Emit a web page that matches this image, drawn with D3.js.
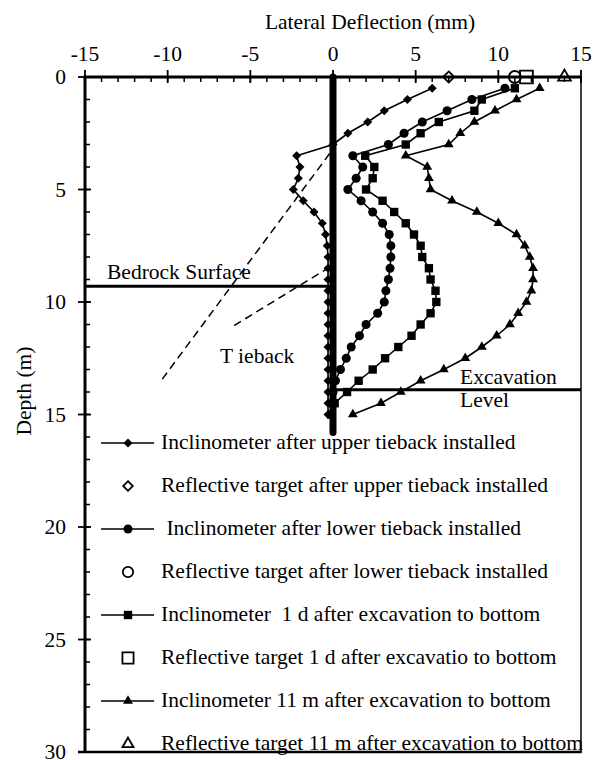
<!DOCTYPE html>
<html lang="en">
<head>
<meta charset="UTF-8">
<title>Lateral deflection profile</title>
<script src="https://cdn.jsdelivr.net/npm/d3@7"></script>
<style>
  body { margin: 0; background: #fff; }
  text { font-family: "Liberation Serif", "Times New Roman", serif; font-size: 21.5px; fill: #000; }
</style>
</head>
<body>
<script>
// inclinometer reading depths (m)
var depths = [0.5, 1.0, 1.5, 2.0, 2.5, 3.0, 3.5, 4.0, 4.5, 5.0, 5.5, 6.0, 6.5, 7.0, 7.5,
              8.0, 8.5, 9.0, 9.5, 10.0, 10.5, 11.0, 11.5, 12.0, 12.5, 13.0, 13.5, 14.0, 14.5, 15.0];
// lateral deflection (mm) per stage
var afterUpper = [6.0, 4.5, 3.1, 2.1, 0.9, 0.0, -2.2, -2.0, -2.1, -2.4, -1.8, -1.15, -0.65, -0.45, -0.35,
                  -0.3, -0.3, -0.3, -0.3, -0.3, -0.3, -0.3, -0.3, -0.3, -0.3, -0.3, -0.3, -0.3, -0.3, -0.3];
var afterLower = [10.4, 8.4, 6.9, 5.4, 4.3, 3.35, 1.2, 1.8, 1.4, 0.9, 1.7, 2.4, 3.0, 3.4, 3.5,
                  3.5, 3.45, 3.35, 3.2, 3.1, 2.7, 2.0, 1.6, 1.1, 0.8, 0.45, 0.15, 0.0, -0.1, -0.1];
var oneDay = [11.0, 9.0, 8.55, 6.4, 5.3, 4.4, 1.95, 2.5, 2.4, 2.0, 3.0, 3.7, 4.4, 4.9, 5.3,
              5.4, 5.8, 5.9, 6.2, 6.25, 5.9, 5.3, 4.75, 3.95, 3.15, 2.4, 1.55, 0.85, 0.1, -0.1];
var elevenMonths = [12.5, 11.1, 9.8, 8.55, 7.7, 7.0, 4.4, 5.7, 5.8, 5.9, 7.2, 8.7, 10.0, 11.1, 11.6,
                    11.9, 12.1, 12.1, 12.0, 11.7, 11.2, 10.7, 9.9, 9.0, 8.0, 6.7, 5.3, 4.1, 2.9, 1.2];
// reflective targets at ground surface (mm)
var targetDefl = [7.0, 11.0, 11.7, 14.0];

var xTicks = [-15, -10, -5, 0, 5, 10, 15];
var yTicks = [0, 5, 10, 15, 20, 25, 30];
var legendLabels = [
  "Inclinometer after upper tieback installed",
  "Reflective target after upper tieback installed",
  " Inclinometer after lower tieback installed",
  "Reflective target after lower tieback installed",
  "Inclinometer  1 d after excavation to bottom",
  "Reflective target 1 d after excavatio to bottom",
  "Inclinometer 11 m after excavation to bottom",
  "Reflective target 11 m after excavation to bottom"
];

var width = 600, height = 760;
var svg = d3.select("body").append("svg").attr("width", width).attr("height", height);

var x = d3.scaleLinear().domain([-15, 15]).range([85, 581]);
var y = d3.scaleLinear().domain([0, 30]).range([77, 752]);

// symbols for each stage
var shapes = [d3.symbolDiamond2 || d3.symbolDiamond, d3.symbolCircle, d3.symbolSquare, d3.symbolTriangle];
var fillSize = [52, 64, 70, 42];
var openSize = [78, 113, 165, 70];
var series = [afterUpper, afterLower, oneDay, elevenMonths];

// ---- axes ----
var ax = svg.append("g").attr("stroke", "#000");
// top axis
ax.append("line").attr("x1", x(-15) - 1.5).attr("x2", x(15)).attr("y1", y(0)).attr("y2", y(0)).attr("stroke-width", 3);
ax.selectAll(".xminor").data(d3.range(-15, 16)).enter().append("line")
  .attr("x1", function (d) { return x(d); }).attr("x2", function (d) { return x(d); })
  .attr("y1", y(0)).attr("y2", y(0) + 5).attr("stroke-width", 1.5);
ax.selectAll(".xmajor").data(xTicks).enter().append("line")
  .attr("x1", function (d) { return x(d); }).attr("x2", function (d) { return x(d); })
  .attr("y1", y(0) - 7).attr("y2", y(0) + 6).attr("stroke-width", 1.8);
// left axis
ax.append("line").attr("x1", x(-15)).attr("x2", x(-15)).attr("y1", y(0)).attr("y2", y(30)).attr("stroke-width", 3);
ax.selectAll(".yminor").data(d3.range(0, 31)).enter().append("line")
  .attr("x1", x(-15)).attr("x2", x(-15) + 5)
  .attr("y1", function (d) { return y(d); }).attr("y2", function (d) { return y(d); }).attr("stroke-width", 1.5);
ax.selectAll(".ymajor").data(yTicks).enter().append("line")
  .attr("x1", x(-15) - 7).attr("x2", x(-15) + 6)
  .attr("y1", function (d) { return y(d); }).attr("y2", function (d) { return y(d); }).attr("stroke-width", 1.8);
// right and bottom frame
ax.append("line").attr("x1", x(15)).attr("x2", x(15)).attr("y1", y(0)).attr("y2", y(30)).attr("stroke-width", 1.5);
ax.append("line").attr("x1", x(-15) - 7).attr("x2", x(15) + 0.75).attr("y1", y(30)).attr("y2", y(30)).attr("stroke-width", 2.5);

svg.selectAll(".xlab").data(xTicks).enter().append("text")
  .attr("x", function (d) { return x(d); }).attr("y", 61)
  .attr("text-anchor", "middle").text(function (d) { return d; });
svg.selectAll(".ylab").data(yTicks).enter().append("text")
  .attr("x", 66).attr("y", function (d) { return y(d); }).attr("dy", "0.34em")
  .attr("text-anchor", "end").text(function (d) { return d; });
svg.append("text").attr("x", 370).attr("y", 29).attr("text-anchor", "middle").text("Lateral Deflection (mm)");
svg.append("text").attr("transform", "translate(31,391) rotate(-90)").attr("text-anchor", "middle").text("Depth (m)");

// ---- site features ----
svg.append("line").attr("x1", x(0)).attr("x2", x(0)).attr("y1", y(0)).attr("y2", y(15.8))
  .attr("stroke", "#000").attr("stroke-width", 7).attr("stroke-linecap", "round");
svg.append("line").attr("x1", x(-15)).attr("x2", x(0)).attr("y1", y(9.3)).attr("y2", y(9.3))
  .attr("stroke", "#000").attr("stroke-width", 3);
svg.append("line").attr("x1", x(0)).attr("x2", x(15)).attr("y1", y(13.9)).attr("y2", y(13.9))
  .attr("stroke", "#000").attr("stroke-width", 3);
// tiebacks
var tiebacks = [[[-0.2, 3.4], [-10.4, 13.5]], [[-0.2, 8.45], [-6.1, 11.1]]];
svg.selectAll(".tie").data(tiebacks).enter().append("path")
  .attr("d", d3.line().x(function (d) { return x(d[0]); }).y(function (d) { return y(d[1]); }))
  .attr("fill", "none").attr("stroke", "#000").attr("stroke-width", 1.5).attr("stroke-dasharray", "8,5");

svg.append("text").attr("x", 107).attr("y", 279).text("Bedrock Surface");
svg.append("text").attr("x", 220).attr("y", 363).style("white-space", "pre").text("T ieback");
svg.append("text").attr("x", 460).attr("y", 384).text("Excavation");
svg.append("text").attr("x", 460).attr("y", 407).text("Level");

// ---- inclinometer profiles ----
var line = d3.line().x(function (d) { return x(d[0]); }).y(function (d) { return y(d[1]); });
series.forEach(function (vals, i) {
  var pts = vals.map(function (v, j) { return [v, depths[j]]; });
  var g = svg.append("g");
  g.append("path").attr("d", line(pts)).attr("fill", "none").attr("stroke", "#000").attr("stroke-width", 1.6);
  g.selectAll("path.m").data(pts).enter().append("path").attr("class", "m")
    .attr("transform", function (d) { return "translate(" + x(d[0]) + "," + y(d[1]) + ")"; })
    .attr("d", d3.symbol().type(shapes[i]).size(fillSize[i]))
    .attr("fill", "#000");
});

// reflective targets at surface
svg.selectAll(".target").data(targetDefl).enter().append("path")
  .attr("transform", function (d) { return "translate(" + x(d) + "," + y(0) + ")"; })
  .attr("d", function (d, i) { return d3.symbol().type(shapes[i]).size(openSize[i])(); })
  .attr("fill", "none").attr("stroke", "#000").attr("stroke-width", 1.8);

// ---- legend ----
var lg = svg.selectAll(".leg").data(legendLabels).enter().append("g")
  .attr("transform", function (d, i) { return "translate(0," + (443 + i * 43) + ")"; });
lg.each(function (d, i) {
  var g = d3.select(this);
  var k = Math.floor(i / 2);
  if (i % 2 === 0) {
    g.append("line").attr("x1", 101).attr("x2", 154).attr("y1", 0).attr("y2", 0)
      .attr("stroke", "#000").attr("stroke-width", 1.6);
    g.append("path").attr("transform", "translate(128,0)")
      .attr("d", d3.symbol().type(shapes[k]).size(fillSize[k])).attr("fill", "#000");
  } else {
    g.append("path").attr("transform", "translate(128,0)")
      .attr("d", d3.symbol().type(shapes[k]).size(openSize[k] * 0.75))
      .attr("fill", "none").attr("stroke", "#000").attr("stroke-width", 1.8);
  }
  g.append("text").attr("x", 161).attr("y", 0).attr("dy", "0.3em")
    .style("white-space", "pre").text(d);
});
</script>
</body>
</html>
